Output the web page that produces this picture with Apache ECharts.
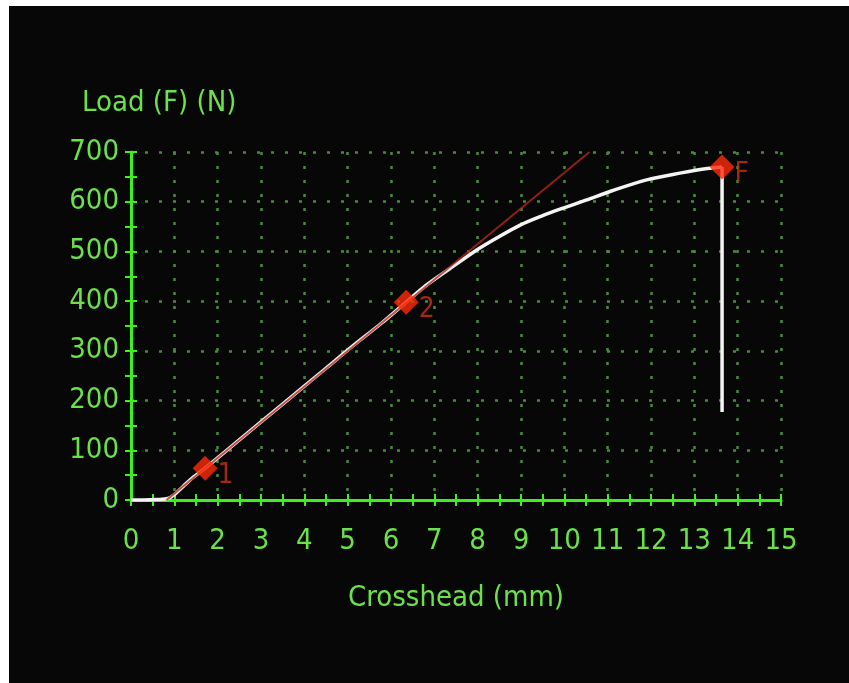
<!DOCTYPE html>
<html>
<head>
<meta charset="utf-8">
<script src="https://cdn.jsdelivr.net/npm/echarts@6/dist/echarts.min.js"></script>
<style>
  html, body { margin: 0; padding: 0; background: #ffffff; width: 849px; height: 683px; overflow: hidden; }
  #chart { position: absolute; left: 9px; top: 6px; width: 840px; height: 677px; background: #070707; }
</style>
</head>
<body>
<div id="chart"></div>
<script>
// Crosshead displacement (mm) and load (N) of the tensile test curve
const crosshead = [0, 0.3, 0.6, 0.85, 1.0, 1.36, 1.71, 2.5, 3.5, 4.5, 5.05, 5.8, 6.35, 6.83, 7.4, 7.98, 8.5, 8.98, 9.5, 9.9, 10.5, 11.1, 11.9, 12.7, 13.3, 13.64];
const load      = [0, 0, 1, 3, 11, 40, 64, 121, 193, 265, 305, 357, 398, 433, 468, 503, 530, 553, 572, 585, 603, 622, 644, 658, 667, 670];

// Elastic slope line through points 1 and 2
const slopeX = [0.82, 10.58];
const slopeY = [0, 700];

// Marked points: 1, 2 and F (failure)
const markNames = ['1', '2', 'F'];
const markX = [1.71, 6.35, 13.64];
const markY = [64, 398, 670];

// Drop after failure
const dropX = [13.64, 13.64];
const dropY = [670, 177];

const xTicks = [0, 15, 1];
const yTicks = [0, 700, 100];

const font = '"DejaVu Sans Condensed", "Liberation Sans Narrow", "DejaVu Sans", sans-serif';
const labelGreen = '#6be24b';
const axisGreen = '#3cf01c';
const gridGreen = '#4a8a3c';

const zip = (a, b) => a.map((v, i) => [v, b[i]]);

const chart = echarts.init(document.getElementById('chart'), null, { renderer: 'canvas' });

const baseX = {
  type: 'value', min: xTicks[0], max: xTicks[1], interval: xTicks[2], position: 'bottom'
};
const baseY = {
  type: 'value', min: yTicks[0], max: yTicks[1], interval: yTicks[2], position: 'left'
};

chart.setOption({
  backgroundColor: '#070707',
  animation: false,
  grid: { left: 122, top: 146, width: 650, height: 348, containLabel: false },
  xAxis: [
    Object.assign({}, baseX, {
      axisLine: { show: true, onZero: false, lineStyle: { color: axisGreen, width: 3 } },
      axisTick: { show: true, length: 6, inside: false, lineStyle: { color: axisGreen, width: 2 } },
      minorTick: { show: true, splitNumber: 2, length: 6, lineStyle: { color: axisGreen, width: 2 } },
      axisLabel: { color: labelGreen, fontSize: 29, fontFamily: font, margin: 27 },
      splitLine: { show: true, lineStyle: { color: gridGreen, width: 2.5, type: [3, 11] } },
      name: 'Crosshead (mm)', nameLocation: 'middle', nameGap: 84,
      nameTextStyle: { color: labelGreen, fontSize: 29, fontFamily: font }
    }),
    Object.assign({}, baseX, {
      axisLine: { show: false, onZero: false },
      axisTick: { show: true, length: 6, inside: true, lineStyle: { color: axisGreen, width: 2 } },
      minorTick: { show: true, splitNumber: 2, length: 6, lineStyle: { color: axisGreen, width: 2 } },
      axisLabel: { show: false },
      splitLine: { show: false }
    })
  ],
  yAxis: [
    Object.assign({}, baseY, {
      axisLine: { show: true, onZero: false, lineStyle: { color: axisGreen, width: 3 } },
      axisTick: { show: true, length: 6, inside: false, lineStyle: { color: axisGreen, width: 2 } },
      minorTick: { show: true, splitNumber: 2, length: 6, lineStyle: { color: axisGreen, width: 2 } },
      axisLabel: { color: labelGreen, fontSize: 29, fontFamily: font, margin: 12 },
      splitLine: { show: true, lineStyle: { color: gridGreen, width: 2.5, type: [3, 11] } }
    }),
    Object.assign({}, baseY, {
      axisLine: { show: false, onZero: false },
      axisTick: { show: true, length: 6, inside: true, lineStyle: { color: axisGreen, width: 2 } },
      minorTick: { show: true, splitNumber: 2, length: 6, lineStyle: { color: axisGreen, width: 2 } },
      axisLabel: { show: false },
      splitLine: { show: false }
    })
  ],
  graphic: [{
    type: 'text', left: 73, top: 83,
    style: { text: 'Load (F) (N)', fill: labelGreen, font: '29px ' + font }
  }],
  series: [
    {
      type: 'line', data: zip(crosshead, load), showSymbol: false, smooth: 0.3,
      lineStyle: { color: '#f4f4f4', width: 3.5 }, z: 3
    },
    {
      type: 'line', data: zip(slopeX, slopeY), showSymbol: false,
      lineStyle: { color: '#b3261a', width: 2, opacity: 0.8 }, z: 4
    },
    {
      type: 'line', data: zip(dropX, dropY), showSymbol: false,
      lineStyle: { color: '#f4f4f4', width: 3.5 }, z: 3
    },
    {
      type: 'scatter', symbol: 'diamond', symbolSize: [25, 25],
      itemStyle: { color: '#ff2a0a' }, z: 5,
      data: markNames.map((n, i) => ({ name: n, value: [markX[i], markY[i]] })),
      label: {
        show: true, position: 'right', distance: 0, offset: [0, 8],
        formatter: p => p.name, color: '#c8301c', fontSize: 28, fontFamily: font
      }
    }
  ]
});
</script>
</body>
</html>
